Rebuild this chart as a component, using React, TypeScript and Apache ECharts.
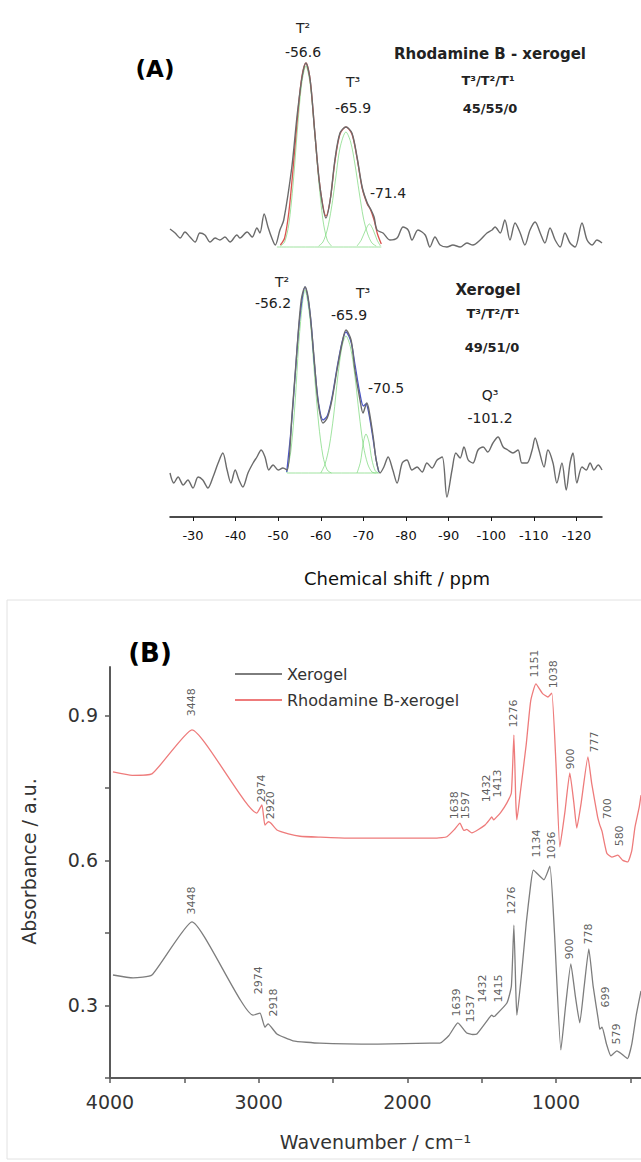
import React, { useEffect, useRef } from "react";
import * as echarts from "echarts";

const FONT = "'DejaVu Sans', sans-serif";

// ---------- Panel A : 29Si NMR (ppm, intensity a.u.) ----------
const nmrTicks = [-30, -40, -50, -60, -70, -80, -90, -100, -110, -120];

const rhbNmr: [number, number][] = [
  [-24.6, 15.5], [-25.8, 13.5], [-27.0, 11], [-28.1, 14], [-29.3, 11.5], [-30.5, 9], [-31.6, 13.5],
  [-32.8, 12.5], [-34.0, 9], [-35.2, 11], [-36.3, 10], [-37.5, 11.5], [-38.7, 9], [-40.3, 12.5],
  [-41.0, 11], [-42.7, 14], [-43.9, 11.5], [-45.0, 16], [-45.7, 13.5], [-46.7, 23], [-47.6, 16.5],
  [-48.5, 11], [-49.3, 7.5], [-50.4, 15], [-51.3, 20], [-53.2, 46.5], [-54.4, 71.5], [-55.6, 91.5],
  [-56.5, 98.5], [-57.5, 90], [-58.6, 63.5], [-59.8, 36.5], [-61.2, 21], [-62.2, 30], [-63.3, 50],
  [-64.5, 63.5], [-65.9, 66.5], [-67.3, 63.5], [-68.5, 51.5], [-69.7, 36.5], [-70.9, 28.5], [-71.8, 25],
  [-72.5, 21.5], [-73.2, 15], [-74.6, 13.5], [-76.2, 10], [-77.9, 11], [-79.3, 16.5], [-80.5, 15],
  [-81.4, 10], [-82.8, 15], [-84.5, 12.5], [-85.6, 6.5], [-86.8, 11.5], [-88.0, 7.5], [-89.6, 6.5],
  [-91.0, 7.5], [-92.7, 6.5], [-94.3, 8.5], [-95.7, 7.5], [-97.4, 10], [-99.0, 13.5], [-100.2, 15],
  [-100.9, 16.5], [-102.1, 13.5], [-103.2, 20], [-104.4, 10], [-105.6, 18.5], [-106.8, 13.5],
  [-107.9, 7.5], [-109.1, 15], [-110.3, 19], [-111.5, 13.5], [-112.6, 8.5], [-113.8, 16], [-115.0, 10],
  [-116.2, 6.5], [-117.3, 13.5], [-118.5, 8.5], [-119.7, 6.5], [-121.3, 18.5], [-122.5, 10],
  [-123.7, 7.5], [-124.8, 10], [-126.0, 8.5],
];
const rhbFit: [number, number][] = [
  [-50.5, 7.5], [-51.5, 11], [-52.5, 24], [-53.5, 46], [-54.5, 71], [-55.5, 91], [-56.5, 98.5],
  [-57.5, 90], [-58.5, 66], [-59.5, 42], [-60.5, 27], [-61.2, 22], [-62.2, 30], [-63.3, 49],
  [-64.5, 63], [-65.9, 66.5], [-67.3, 63], [-68.5, 51], [-69.7, 36], [-70.9, 28], [-71.6, 25.5],
  [-72.5, 20], [-73.3, 13], [-74.2, 8],
];
const rhbT2: [number, number][] = [
  [-50.5, 7], [-51.5, 9], [-52.5, 18], [-53.5, 38], [-54.5, 65], [-55.5, 88], [-56.5, 97],
  [-57.5, 88], [-58.5, 65], [-59.5, 40], [-60.5, 20], [-61.5, 10], [-62.5, 7],
];
const rhbT3: [number, number][] = [
  [-59.5, 7], [-60.5, 9], [-61.5, 15], [-62.5, 26], [-63.5, 41], [-64.5, 56], [-65.9, 64],
  [-67.0, 59], [-68.0, 48], [-69.0, 34], [-70.0, 21], [-71.0, 13], [-72.0, 8.5], [-73.0, 7],
];
const rhbT1: [number, number][] = [
  [-68.5, 7], [-69.5, 10], [-70.5, 15], [-71.4, 18], [-72.3, 15], [-73.2, 10], [-74.0, 7],
];
const rhbBase: [number, number][] = [[-49.7, 6.5], [-74.2, 6.5]];

const xeroNmr: [number, number][] = [
  [-24.6, 8.5], [-25.5, 3.5], [-26.5, 6.5], [-27.7, 2.5], [-28.8, 5], [-30.0, 1], [-31.2, 6.5],
  [-32.3, 5], [-33.5, 1], [-34.7, 6.5], [-35.9, 13.5], [-37.0, 18.5], [-38.0, 10], [-38.9, 3.5],
  [-39.9, 10], [-40.8, 5], [-41.7, 1.5], [-42.9, 8.5], [-44.1, 13.5], [-45.0, 16.5], [-46.0, 20],
  [-46.9, 16.5], [-47.8, 10], [-48.8, 12.5], [-50.0, 10], [-51.1, 11], [-52.1, 10], [-53.2, 36.5],
  [-54.4, 70], [-55.4, 95], [-56.3, 101.5], [-57.2, 93.5], [-58.4, 66.5], [-59.3, 45], [-60.5, 33.5],
  [-61.5, 36], [-62.6, 45], [-63.8, 60], [-65.0, 73.5], [-65.9, 80], [-67.1, 75], [-68.0, 60],
  [-69.2, 45], [-69.9, 38.5], [-70.8, 43.5], [-71.3, 40], [-72.3, 26.5], [-73.0, 15], [-73.9, 8.5],
  [-74.8, 11.5], [-75.8, 16.5], [-76.9, 10], [-77.9, 3.5], [-79.1, 13.5], [-80.2, 15], [-81.4, 10],
  [-82.6, 11.5], [-83.8, 9], [-84.9, 13.5], [-86.1, 11], [-87.3, 15], [-88.5, 16.5], [-89.6, -3.5],
  [-90.8, 10], [-91.7, 18.5], [-92.7, 16], [-93.6, 21.5], [-94.6, 15], [-95.7, 13.5], [-96.9, 20],
  [-98.1, 21.5], [-99.2, 19], [-100.4, 23.5], [-101.6, 26.5], [-102.8, 21.5], [-103.9, 20],
  [-105.1, 18.5], [-106.3, 20], [-107.2, 13.5], [-108.4, 13.5], [-109.6, 20], [-110.3, 26],
  [-111.2, 20], [-112.4, 11.5], [-113.3, 20], [-114.5, 13.5], [-115.4, 3.5], [-116.6, 13.5],
  [-117.6, 0], [-118.5, 13.5], [-119.2, 18.5], [-120.1, 3.5], [-121.3, 11.5], [-122.3, 10],
  [-123.2, 13.5], [-124.1, 10], [-125.1, 12.5], [-126.0, 10],
];
const xeroFit: [number, number][] = [
  [-52.0, 9], [-53.0, 30], [-54.0, 58], [-55.0, 85], [-56.3, 101.5], [-57.5, 88], [-58.5, 63],
  [-59.5, 43], [-60.5, 35], [-61.5, 37], [-62.6, 46], [-63.8, 61], [-65.0, 74], [-65.9, 79],
  [-67.1, 74], [-68.0, 63], [-69.2, 48], [-70.0, 42], [-70.6, 43], [-71.3, 38], [-72.3, 25],
  [-73.0, 15], [-73.6, 9],
];
const xeroT2: [number, number][] = [
  [-52.0, 8.5], [-53.0, 20], [-54.0, 45], [-55.0, 78], [-56.3, 100], [-57.5, 85], [-58.5, 58],
  [-59.5, 33], [-60.5, 17], [-61.5, 10], [-62.5, 8.5],
];
const xeroT3: [number, number][] = [
  [-60.0, 8.5], [-61.0, 13], [-62.0, 22], [-63.0, 37], [-64.0, 57], [-65.0, 72], [-65.9, 77],
  [-67.0, 71], [-68.0, 57], [-69.0, 38], [-70.0, 22], [-71.0, 13], [-72.0, 9], [-73.0, 8.5],
];
const xeroT1: [number, number][] = [
  [-68.5, 8.5], [-69.3, 14], [-70.0, 24], [-70.6, 28], [-71.3, 24], [-72.0, 15], [-72.8, 9.5],
  [-73.5, 8.5],
];
const xeroBase: [number, number][] = [[-52.1, 8.5], [-73.6, 8.5]];

// ---------- Panel B : FTIR (wavenumber, absorbance) ----------
const irXTicks = [4000, 3500, 3000, 2500, 2000, 1500, 1000, 500];
const irXLabels = [4000, 3000, 2000, 1000];
const irYTicks = [0.15, 0.3, 0.45, 0.6, 0.75, 0.9];
const irYLabels = [0.3, 0.6, 0.9];

const xerogelIR: [number, number][] = [
  [3980, 0.363], [3845, 0.357], [3718, 0.363], [3449, 0.473],
  [3038, 0.28], [2991, 0.284], [2958, 0.255], [2937, 0.262], [2877, 0.241], [2769, 0.227],
  [2588, 0.222], [2200, 0.22], [1848, 0.222], [1781, 0.222], [1720, 0.238], [1660, 0.264],
  [1600, 0.243], [1560, 0.24], [1532, 0.241], [1445, 0.276], [1432, 0.28], [1420, 0.277],
  [1411, 0.278], [1330, 0.305], [1300, 0.34], [1283, 0.466], [1270, 0.33], [1263, 0.28],
  [1230, 0.37], [1200, 0.47], [1170, 0.55], [1152, 0.58], [1081, 0.56], [1041, 0.588],
  [1010, 0.45], [967, 0.208], [935, 0.3], [900, 0.386], [870, 0.32], [840, 0.264], [810, 0.34],
  [779, 0.417], [750, 0.34], [715, 0.27], [705, 0.251], [690, 0.255], [660, 0.22], [631, 0.196],
  [590, 0.206], [560, 0.2], [519, 0.19], [490, 0.22], [460, 0.28], [428, 0.33],
];
const rhodamineIR: [number, number][] = [
  [3980, 0.783], [3850, 0.776], [3718, 0.779], [3449, 0.87],
  [3012, 0.698], [2978, 0.715], [2958, 0.673], [2935, 0.68], [2917, 0.677], [2877, 0.663],
  [2800, 0.655], [2722, 0.65], [2588, 0.648], [2400, 0.646], [2100, 0.646], [1801, 0.646],
  [1734, 0.649], [1680, 0.665], [1646, 0.677], [1620, 0.662], [1600, 0.664], [1566, 0.657],
  [1478, 0.673], [1445, 0.685], [1432, 0.69], [1420, 0.684], [1411, 0.686], [1370, 0.7],
  [1330, 0.719], [1300, 0.74], [1283, 0.859], [1270, 0.72], [1263, 0.684], [1240, 0.74],
  [1200, 0.84], [1170, 0.93], [1135, 0.965], [1090, 0.945], [1054, 0.938], [1028, 0.946],
  [1000, 0.8], [974, 0.628], [940, 0.7], [907, 0.781], [880, 0.72], [860, 0.667], [830, 0.72],
  [785, 0.814], [760, 0.76], [720, 0.69], [705, 0.673], [690, 0.66], [658, 0.615], [624, 0.607],
  [584, 0.611], [550, 0.6], [517, 0.597], [490, 0.62], [469, 0.668], [440, 0.71], [428, 0.735],
];
// peak annotations: [wavenumber of label, absorbance at label base, text]
const rhodaminePeaks: [number, number, string][] = [
  [3449, 0.897, "3448"], [2978, 0.719, "2974"], [2917, 0.684, "2920"], [1680, 0.684, "1638"],
  [1606, 0.684, "1597"], [1465, 0.719, "1432"], [1391, 0.729, "1413"], [1283, 0.874, "1276"],
  [1142, 0.977, "1151"], [1014, 0.955, "1038"], [900, 0.787, "900"], [738, 0.822, "777"],
  [651, 0.684, "700"], [570, 0.628, "580"],
];
const xerogelPeaks: [number, number, string][] = [
  [3449, 0.487, "3448"], [2998, 0.322, "2974"], [2897, 0.276, "2918"], [1666, 0.276, "1639"],
  [1572, 0.264, "1537"], [1492, 0.305, "1432"], [1384, 0.305, "1415"], [1297, 0.487, "1276"],
  [1128, 0.605, "1134"], [1027, 0.601, "1036"], [907, 0.394, "900"], [779, 0.425, "778"],
  [665, 0.295, "699"], [590, 0.218, "579"],
];

const GREEN = "rgba(120, 215, 120, 0.7)";
const SPEC = "#6b6b6b";

function nmrLine(data: [number, number][], idx: number, color: string, width: number, z: number) {
  return {
    type: "line",
    xAxisIndex: idx,
    yAxisIndex: idx,
    data,
    showSymbol: false,
    symbol: "none",
    smooth: 0.3,
    lineStyle: { color, width },
    z,
    silent: true,
  };
}

function peakLabels(name: string, data: [number, number, string][]) {
  return {
    type: "scatter",
    name,
    xAxisIndex: 2,
    yAxisIndex: 2,
    data,
    symbolSize: 1,
    itemStyle: { color: "rgba(0,0,0,0)" },
    z: 10,
    label: {
      show: true,
      position: "top",
      distance: 0,
      rotate: 90,
      align: "left",
      verticalAlign: "middle",
      fontSize: 11,
      fontFamily: FONT,
      color: "#333",
      formatter: (p: any) => p.value[2],
    },
  };
}

function txt(text: string, x: number, y: number, size: number, bold = false, color = "#222") {
  return {
    type: "text",
    x,
    y,
    silent: true,
    z: 20,
    style: {
      text,
      font: `${bold ? "bold " : ""}${size}px ${FONT}`,
      fill: color,
      textAlign: "center",
      textVerticalAlign: "middle",
    },
  };
}

export default function App() {
  const ref = useRef<HTMLDivElement>(null);

  useEffect(() => {
    if (!ref.current) return;
    const chart = echarts.init(ref.current, null, { renderer: "svg" });
    const option: any = {
      animation: false,
      backgroundColor: "#ffffff",
      textStyle: { fontFamily: FONT },
      grid: [
        { left: 170, width: 432, top: 50, height: 230 },
        { left: 170, width: 432, top: 280, height: 237 },
        { left: 110, right: 0, top: 667, height: 411 },
      ],
      legend: {
        data: ["Xerogel", "Rhodamine B-xerogel"],
        orient: "vertical",
        left: 230,
        top: 661,
        icon: "rect",
        itemWidth: 47,
        itemHeight: 2,
        itemGap: 10,
        textStyle: { fontSize: 16, color: "#333", fontFamily: FONT },
      },
      xAxis: [
        { gridIndex: 0, type: "value", min: -126, max: -24.6, inverse: true, show: false },
        {
          gridIndex: 1,
          type: "value",
          min: -126,
          max: -24.6,
          inverse: true,
          name: "Chemical shift / ppm",
          nameLocation: "middle",
          nameGap: 52,
          nameTextStyle: { fontSize: 18, color: "#111", fontFamily: FONT, padding: [0, 0, 0, 22] },
          axisLine: { show: true, onZero: false, lineStyle: { color: "#111", width: 1.5 } },
          axisTick: { show: true, length: 4, customValues: nmrTicks, lineStyle: { color: "#111" } },
          axisLabel: {
            customValues: nmrTicks,
            margin: 12,
            fontSize: 13,
            color: "#111",
            fontFamily: FONT,
            formatter: (v: number) => String(v),
          },
          splitLine: { show: false },
        },
        {
          gridIndex: 2,
          type: "value",
          min: 428,
          max: 4000,
          inverse: true,
          name: "Wavenumber / cm⁻¹",
          nameLocation: "middle",
          nameGap: 54,
          nameTextStyle: { fontSize: 19, color: "#333", fontFamily: FONT },
          axisLine: { show: true, onZero: false, lineStyle: { color: "#5a5a5a", width: 2 } },
          axisTick: { show: true, length: 5, customValues: irXTicks, lineStyle: { color: "#5a5a5a", width: 1.5 } },
          axisLabel: {
            customValues: irXLabels,
            margin: 14,
            fontSize: 19,
            color: "#333",
            fontFamily: FONT,
            formatter: (v: number) => String(v),
          },
          splitLine: { show: false },
        },
      ],
      yAxis: [
        { gridIndex: 0, type: "value", min: -10, max: 105, show: false },
        { gridIndex: 1, type: "value", min: -13.5, max: 105, show: false },
        {
          gridIndex: 2,
          type: "value",
          min: 0.15,
          max: 1.0,
          name: "Absorbance / a.u.",
          nameLocation: "middle",
          nameGap: 72,
          nameTextStyle: { fontSize: 19, color: "#333", fontFamily: FONT, padding: [0, 0, 0, 22] },
          axisLine: { show: true, onZero: false, lineStyle: { color: "#5a5a5a", width: 2 } },
          axisTick: { show: true, length: 5, customValues: irYTicks, lineStyle: { color: "#5a5a5a", width: 1.5 } },
          axisLabel: {
            customValues: irYLabels,
            margin: 12,
            fontSize: 19,
            color: "#333",
            fontFamily: FONT,
            formatter: (v: number) => v.toFixed(1),
          },
          splitLine: { show: false },
        },
      ],
      series: [
        nmrLine(rhbBase, 0, GREEN, 1, 1),
        nmrLine(rhbT2, 0, GREEN, 1, 1),
        nmrLine(rhbT3, 0, GREEN, 1, 1),
        nmrLine(rhbT1, 0, GREEN, 1, 1),
        nmrLine(rhbFit, 0, "#d9534f", 1.3, 2),
        nmrLine(rhbNmr, 0, SPEC, 1.4, 3),
        nmrLine(xeroBase, 1, GREEN, 1, 1),
        nmrLine(xeroT2, 1, GREEN, 1, 1),
        nmrLine(xeroT3, 1, GREEN, 1, 1),
        nmrLine(xeroT1, 1, GREEN, 1, 1),
        nmrLine(xeroFit, 1, "#4a55c8", 1.3, 2),
        nmrLine(xeroNmr, 1, SPEC, 1.4, 3),
        {
          type: "line",
          name: "Xerogel",
          xAxisIndex: 2,
          yAxisIndex: 2,
          data: xerogelIR,
          showSymbol: false,
          symbol: "none",
          smooth: 0.15,
          color: "#7d7d7d",
          lineStyle: { color: "#7d7d7d", width: 1.3 },
          z: 3,
        },
        {
          type: "line",
          name: "Rhodamine B-xerogel",
          xAxisIndex: 2,
          yAxisIndex: 2,
          data: rhodamineIR,
          showSymbol: false,
          symbol: "none",
          smooth: 0.15,
          color: "#ee7b7b",
          lineStyle: { color: "#ee7b7b", width: 1.3 },
          z: 3,
        },
        peakLabels("rhodamine-peaks", rhodaminePeaks),
        peakLabels("xerogel-peaks", xerogelPeaks),
      ],
      graphic: [
        {
          type: "rect",
          z: -1,
          silent: true,
          shape: { x: 7, y: 600, width: 660, height: 559 },
          style: { fill: "none", stroke: "#e2e2e2", lineWidth: 1 },
        },
        txt("(A)", 155, 69, 23, true, "#000"),
        txt("T²", 303, 28, 14),
        txt("-56.6", 303, 52, 14),
        txt("T³", 353, 82, 14),
        txt("-65.9", 353, 108, 14),
        txt("-71.4", 388, 193, 14),
        txt("Rhodamine B - xerogel", 490, 54, 15, true),
        txt("T³/T²/T¹", 488, 80, 13, true),
        txt("45/55/0", 490, 108, 13, true),
        txt("T²", 282, 282, 14),
        txt("-56.2", 273, 303, 14),
        txt("T³", 363, 293, 14),
        txt("-65.9", 349, 315, 14),
        txt("-70.5", 386, 388, 14),
        txt("Xerogel", 488, 290, 15, true),
        txt("T³/T²/T¹", 493, 313, 13, true),
        txt("49/51/0", 492, 347, 13, true),
        txt("Q³", 490, 395, 14),
        txt("-101.2", 490, 418, 14),
        txt("(B)", 150, 653, 26, true, "#000"),
      ],
    };
    chart.setOption(option);
    return () => chart.dispose();
  }, []);

  return (
    <div
      ref={ref}
      style={{ position: "absolute", left: 0, top: 0, width: 641, height: 1162, background: "#fff" }}
    />
  );
}
